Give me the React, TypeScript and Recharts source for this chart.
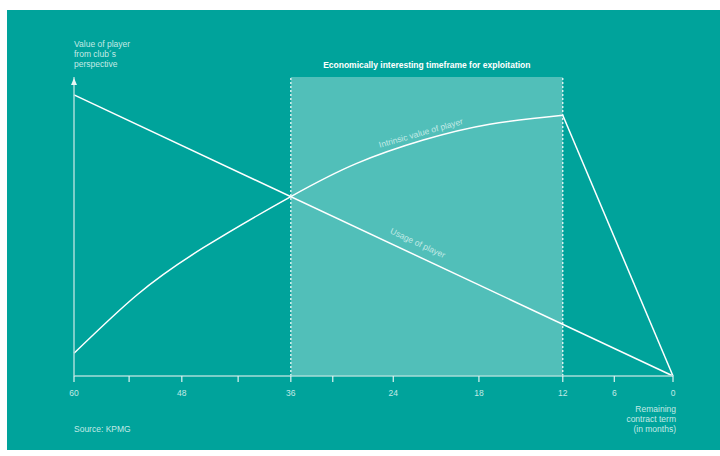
import { LineChart, Line, XAxis, YAxis, ReferenceArea, ReferenceLine, ReferenceDot } from 'recharts';

// x axis is a schematic timeline: positions (0..100) where each month tick sits
const tickPos = [0, 9.2, 18.0, 27.4, 36.2, 43.2, 53.3, 67.6, 81.6, 90.2, 100];
const tickMonths = ['60', '', '48', '', '36', '', '24', '18', '12', '6', '0'];

// Intrinsic value of player (rising curve, then drop at contract end)
const intrinsicPos = [0, 10.5, 21.6, 36.2, 47.2, 58.3, 69.4, 81.6];
const intrinsicValue = [7.6, 27.1, 42.9, 60.0, 71.1, 78.9, 84.2, 87.2];
const dropPos = [81.6, 100];
const dropValue = [87.2, 0];

// Usage of player (straight decline)
const usagePos = [0, 100];
const usageValue = [94, 0];

// Economically interesting timeframe (36 -> 12 months)
const windowStart = 36.2;
const windowEnd = 81.6;

const TEAL = '#00A39B';
const SHADE = '#51BFB9';
const SOFT = '#c3eae6';
const AXIS = '#a6dcd8';
const FONT = '"Liberation Sans", Arial, sans-serif';

const toRows = (xs: number[], ys: number[]) => xs.map((t, i) => ({ t, v: ys[i] }));

const YTitle = (props: any) => {
    const vb = props.viewBox || {};
    const cx = (vb.x || 0) + (vb.width || 0);
    const top = vb.y || 0;
    return (
        <g>
            <polygon points={`${cx - 3},${top + 8} ${cx},${top + 1} ${cx + 3},${top + 8}`} fill="#e6f6f4" />
            <text x={cx} y={47} fill={SOFT} fontSize={8.5} fontFamily={FONT}>
                <tspan x={cx} y={47}>Value of player</tspan>
                <tspan x={cx} y={57}>from club´s</tspan>
                <tspan x={cx} y={67}>perspective</tspan>
            </text>
        </g>
    );
};

const XTitle = (props: any) => {
    const vb = props.viewBox || {};
    const right = (vb.x || 0) + (vb.width || 0) + 3;
    return (
        <text textAnchor="end" fill={SOFT} fontSize={8.5} fontFamily={FONT}>
            <tspan x={right} y={412}>Remaining</tspan>
            <tspan x={right} y={422}>contract term</tspan>
            <tspan x={right} y={432}>(in months)</tspan>
        </text>
    );
};

export default function App() {
    const intrinsic = toRows(intrinsicPos, intrinsicValue);
    const drop = toRows(dropPos, dropValue);
    const usage = toRows(usagePos, usageValue);

    return (
        <div style={{ position: 'absolute', left: 0, top: 0, width: 720, height: 456, background: '#fff', fontFamily: FONT }}>
            <div style={{ position: 'absolute', left: 7, top: 10, width: 713, height: 440, background: TEAL }} />
            <div style={{ position: 'absolute', left: 74, top: 424, color: SOFT, fontSize: 8.5 }}>Source: KPMG</div>
            <div style={{ position: 'absolute', left: 0, top: 0 }}>
                <LineChart width={720} height={456} margin={{ top: 77, right: 47, bottom: 50, left: 73 }} style={{ fontFamily: FONT }}>
                    <XAxis
                        type="number"
                        dataKey="t"
                        domain={[0, 100]}
                        ticks={tickPos}
                        interval={0}
                        height={30}
                        tickFormatter={(_v, i) => tickMonths[i]}
                        axisLine={{ stroke: AXIS, strokeWidth: 1.5 }}
                        tickLine={{ stroke: '#e0f4f2', strokeWidth: 1.2 }}
                        tickSize={6}
                        tickMargin={8}
                        tick={{ fill: SOFT, fontSize: 8.5 }}
                        label={{ content: XTitle }}
                    />
                    <YAxis
                        type="number"
                        dataKey="v"
                        domain={[0, 100]}
                        width={1}
                        tick={false}
                        tickLine={false}
                        axisLine={{ stroke: AXIS, strokeWidth: 1.5 }}
                        label={{ content: YTitle }}
                    />

                    <ReferenceArea
                        x1={windowStart}
                        x2={windowEnd}
                        y1={0}
                        y2={100}
                        fill={SHADE}
                        fillOpacity={1}
                        stroke="none"
                        label={{
                            value: 'Economically interesting timeframe for exploitation',
                            position: 'top',
                            offset: 9,
                            fill: '#ffffff',
                            fontSize: 8.5,
                            fontWeight: 'bold',
                        }}
                    />
                    <ReferenceLine x={windowStart} stroke="#ffffff" strokeWidth={1.2} strokeDasharray="2 2" />
                    <ReferenceLine x={windowEnd} stroke="#ffffff" strokeWidth={1.2} strokeDasharray="2 2" />

                    <Line data={usage} dataKey="v" type="linear" stroke="#ffffff" strokeWidth={1.5} dot={false} isAnimationActive={false} />
                    <Line data={intrinsic} dataKey="v" type="natural" stroke="#ffffff" strokeWidth={1.5} dot={false} isAnimationActive={false} />
                    <Line data={drop} dataKey="v" type="linear" stroke="#ffffff" strokeWidth={1.5} dot={false} isAnimationActive={false} />

                    <ReferenceDot
                        x={57.9}
                        y={81.3}
                        r={0}
                        fill="none"
                        stroke="none"
                        label={{ value: 'Intrinsic value of player', position: 'center', angle: -16, fill: SOFT, fontSize: 8.5 }}
                    />
                    <ReferenceDot
                        x={57.4}
                        y={44.5}
                        r={0}
                        fill="none"
                        stroke="none"
                        label={{ value: 'Usage of player', position: 'center', angle: 25, fill: SOFT, fontSize: 8.5 }}
                    />
                </LineChart>
            </div>
        </div>
    );
}
